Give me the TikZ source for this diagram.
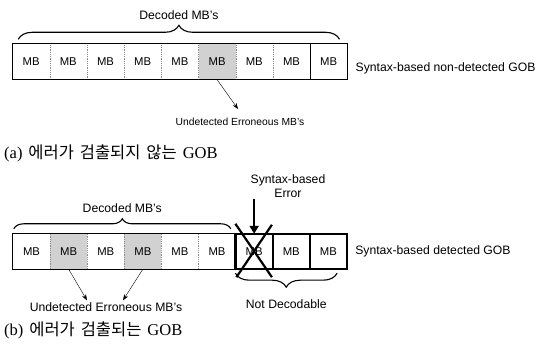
\documentclass[tikz,border=0pt]{standalone}
\usepackage{fontspec}
\setmainfont{Liberation Serif}
\setsansfont{Liberation Sans}
\newfontfamily\krfont[WordSpace=1.6]{Noto Sans CJK KR}
\usetikzlibrary{
  positioning,
  arrows.meta,
  calc,
  decorations.pathreplacing
}
\tikzset{
  >={Stealth[length=6pt,width=4.5pt]},
  mb cell/.style={
    minimum width=37.2pt, minimum height=36pt, inner sep=0pt,
    font=\sffamily\fontsize{11.3}{12}\selectfont
  },
  err cell/.style={mb cell, fill=black!18},
  label text/.style={font=\sffamily\fontsize{12.2}{14}\selectfont, inner sep=1pt},
  cell sep/.style={black!45, densely dotted, line width=0.8pt},
  gob brace/.style={decorate, decoration={brace, amplitude=#1}, line width=1.1pt},
  gob brace/.default=12pt,
  heavy/.style={line width=2.2pt},
  caption text/.style={font=\fontsize{16.5}{19}\selectfont, anchor=west, inner sep=0pt}
}

\begin{document}
\begin{tikzpicture}[x=1pt,y=-1pt]
\useasboundingbox (0,0) rectangle (539,352);
% (a)
\foreach \k/\sty in {1/mb cell,2/mb cell,3/mb cell,4/mb cell,5/mb cell,%
  6/err cell,7/mb cell,8/mb cell,9/mb cell} {
  \node[\sty] (a\k) at ({12.5+37.2*(\k-0.5)},61.5) {MB};
}
\foreach \k in {1,...,7}
  \draw[cell sep] (a\k.north east) -- (a\k.south east);
\draw (a8.north east) -- (a8.south east);
\draw[line width=0.9pt] (a1.north west) rectangle (a9.south east);
\draw[gob brace=14pt] ($(a1.north west)+(6,-4)$) -- ($(a9.north east)+(-8,-4)$)
  node[midway, above=18pt, label text] (deca) {Decoded MB's};
\node[label text, font=\sffamily\fontsize{10.3}{12}\selectfont] (unda) at (240,122)
  {Undetected Erroneous MB's};
\draw[->] (a6.south) -- ($(unda.north)+(-2,-8)$);
\node[label text, right=7pt of a9, yshift=-7pt] (goba) {Syntax-based non-detected GOB};
\node[caption text] (capa) at (4,153) {(a){\krfont{} 에러가 검출되지 않는 }GOB};
% (b)
\foreach \k/\sty in {1/mb cell,2/err cell,3/mb cell,4/err cell,5/mb cell,%
  6/mb cell,7/mb cell,8/mb cell,9/mb cell} {
  \node[\sty, minimum width=37.1pt, minimum height=35pt] (b\k) at ({13+37.1*(\k-0.5)},251.5) {MB};
}
\foreach \k in {1,...,5}
  \draw[cell sep] (b\k.north east) -- (b\k.south east);
\draw[line width=0.9pt] (b1.north west) rectangle (b9.south east);
\draw[heavy] (b7.north west) rectangle (b9.south east);
\draw[heavy] (b7.north east) -- (b7.south east) (b8.north east) -- (b8.south east);
\coordinate (x1) at ($(b7.north west)+(0,-10)$);
\coordinate (x2) at ($(b7.south east)+(-1,8)$);
\coordinate (x3) at ($(b7.north east)+(-1,-9)$);
\coordinate (x4) at ($(b7.south west)+(1,8)$);
\draw[heavy] (x1) -- (x2) (x3) -- (x4);
\node[label text, align=center] (synerr) at (288,186) {Syntax-based\\Error};
\draw[heavy, -{Triangle[length=8pt,width=9pt]}] (synerr.south -| b7.north) -- (b7.north);
\draw[gob brace=10pt] ($(b1.north west)+(1,-5)$) -- ($(b6.north east)+(-5,-5)$)
  node[midway, above=15pt, label text] (decb) {Decoded MB's};
\draw[gob brace=14pt] ($(b9.south east)+(-10,4)$) -- ($(b7.south west)+(0,4)$)
  node[midway, below=25pt, label text] (notdec) {Not Decodable};
\node[label text] (undb) at (106,307) {Undetected Erroneous MB's};
\draw[->] (b2.south) -- ($(undb.north)+(-19,-1)$);
\draw[->] (b4.south) -- ($(undb.north)+(17,-1)$);
\node[label text, right=7pt of b9] (gobb) {Syntax-based detected GOB};
\node[caption text] (capb) at (4,330) {(b){\krfont{} 에러가 검출되는 }GOB};
\end{tikzpicture}
\end{document}
